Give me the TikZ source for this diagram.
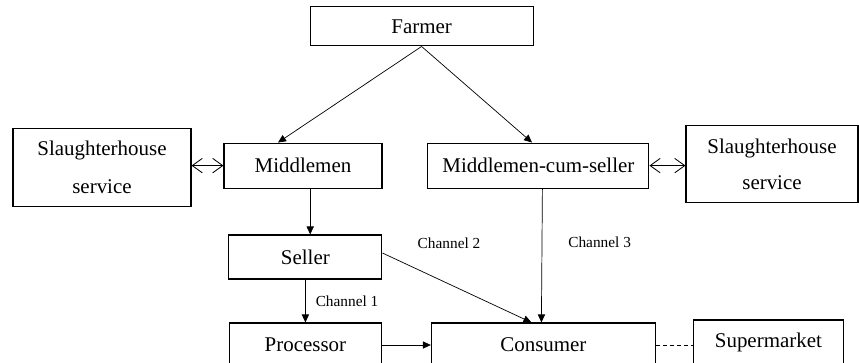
\documentclass[tikz,border=0pt]{standalone}
\usepackage{fontspec}
\setmainfont{Liberation Serif}
\usetikzlibrary{arrows.meta}

\tikzset{
  box/.style={draw, line width=0.8pt, inner sep=0pt, align=center, font=\fontsize{14.9}{18}\selectfont},
  chan/.style={inner sep=0pt, font=\fontsize{10.9}{13}\selectfont},
  flow/.style={-{Triangle[length=0.2cm,width=0.18cm]}, line width=0.5pt},
  link/.style={{Straight Barb[length=0.25cm,width=0.36cm]}-{Straight Barb[length=0.25cm,width=0.36cm]}, line width=0.6pt},
}

\begin{document}
\begin{tikzpicture}
    \useasboundingbox (0,0) rectangle (21.475,-9.05);
    \node[box, minimum width=5.575cm, minimum height=0.975cm] (farmer) at (10.54,-0.66) {Farmer};
    \node[box, minimum width=3.95cm, minimum height=1.125cm, node distance=3.48cm, below of=farmer, xshift=-2.965cm] (midmen) {Middlemen};
    \node[box, minimum width=4.45cm, minimum height=1.95cm, node distance=5.025cm, left of=midmen, yshift=-0.04cm] (slaughL) {Slaughterhouse\\[9pt]service};
    \node[box, minimum width=5.525cm, minimum height=1.125cm, node distance=5.885cm, right of=midmen] (mcs) {Middlemen-cum-seller};
    \node[box, minimum width=4.3cm, minimum height=1.925cm, node distance=5.84cm, right of=mcs, yshift=0.03cm] (slaughR) {Slaughterhouse\\[8pt]service};
    \node[box, minimum width=3.825cm, minimum height=1.1cm, node distance=2.285cm, below of=midmen, xshift=0.06cm] (seller) {Seller};
    \node[box, minimum width=3.8cm, minimum height=1.1cm, node distance=2.2cm, below of=seller] (processor) {Processor};
    \node[box, minimum width=5.6cm, minimum height=1.1cm, node distance=5.95cm, right of=processor] (consumer) {Consumer};
    \node[box, minimum width=3.75cm, minimum height=1.1cm, node distance=5.625cm, right of=consumer, yshift=0.075cm] (market) {Supermarket};

    \draw[flow] (farmer.south) -- ([xshift=-0.625cm]midmen.north);
    \draw[flow] (farmer.south) -- ([xshift=-0.16cm]mcs.north);
    \draw[link] (slaughL.east |- midmen) -- (midmen.west);
    \draw[link] (mcs.east) -- (mcs.east -| slaughR.west);
    \draw[flow] ([xshift=0.18cm]midmen.south) -- ([xshift=0.12cm]seller.north);
    \draw[flow] (seller.south) -- (processor.north) node[chan, midway, anchor=west, xshift=0.25cm] (ch1) {Channel 1};
    \draw[flow] ([yshift=0.1cm]seller.east) -- ([xshift=-0.3cm]consumer.north);
    \draw[flow] ([xshift=0.1cm]mcs.south) -- ([xshift=-0.05cm]consumer.north) node[chan, pos=0.4, anchor=west, xshift=0.65cm] (ch3) {Channel 3};
    \draw[flow] (processor.east) -- (consumer.west);
    \draw[dash pattern=on 3pt off 2pt, line width=0.6pt] (consumer.east) -- (consumer.east -| market.west);
    \node[chan, anchor=west] (ch2) at ([xshift=0.875cm,yshift=-0.225cm]seller.north east) {Channel 2};
\end{tikzpicture}
\end{document}
